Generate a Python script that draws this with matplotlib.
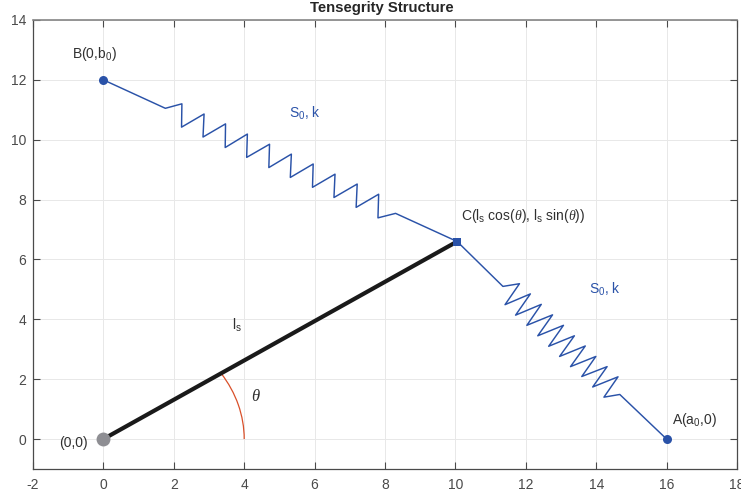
import matplotlib
matplotlib.use('Agg')
import matplotlib.pyplot as plt
from matplotlib.patches import Arc

plt.rcParams['font.family'] = ['Liberation Sans', 'DejaVu Sans']
plt.rcParams['mathtext.fontset'] = 'custom'
plt.rcParams['mathtext.rm'] = 'Liberation Sans'
plt.rcParams['mathtext.it'] = 'Liberation Serif:italic'
plt.rcParams['mathtext.default'] = 'regular'
plt.rcParams['axes.unicode_minus'] = False

BLUE = '#2a52a8'
DARK = '#4a4a4a'
TEXT = '#303030'

x_ticks = list(range(-2, 20, 2))
y_ticks = list(range(0, 16, 2))

origin = (0, 0)
point_a = (16, 0)
point_b = (0, 12)
point_c = (10.05, 6.6)
arc_radius = 4
arc_angle = 33.3

spring_bc_x = [0, 1.76, 2.23, 2.22, 2.86, 2.83, 3.47, 3.46, 4.09, 4.07, 4.72, 4.70, 5.34, 5.31,
               5.96, 5.94, 6.58, 6.55, 7.21, 7.18, 7.82, 7.80, 8.30, 10.05]
spring_bc_y = [12, 11.05, 11.2, 10.42, 10.86, 10.09, 10.53, 9.74, 10.19, 9.41, 9.85, 9.07, 9.52, 8.74,
               9.19, 8.41, 8.85, 8.07, 8.52, 7.74, 8.18, 7.39, 7.54, 6.6]

spring_ca_x = [10.05, 11.35, 11.82, 11.41, 12.13, 11.71, 12.44, 12.03, 12.76, 12.34, 13.07, 12.65,
               13.38, 12.96, 13.69, 13.27, 13.99, 13.59, 14.31, 13.90, 14.62, 14.22, 14.67, 16]
spring_ca_y = [6.6, 5.10, 5.19, 4.49, 4.85, 4.14, 4.50, 3.80, 4.15, 3.45, 3.80, 3.10,
               3.45, 2.76, 3.11, 2.42, 2.76, 2.09, 2.42, 1.74, 2.08, 1.40, 1.49, 0]

fig = plt.figure(figsize=(7.41, 4.97), dpi=100)
ax = fig.add_axes([33 / 741, 1 - 469 / 497, 704 / 741, 449 / 497])

ax.plot(spring_bc_x, spring_bc_y, color=BLUE, lw=1.05)
ax.plot(spring_ca_x, spring_ca_y, color=BLUE, lw=1.05)
ax.plot([origin[0], point_c[0]], [origin[1], point_c[1]], color='#1a1a1a', lw=3, solid_capstyle='butt')
ax.add_patch(Arc(origin, 2 * arc_radius, 2 * arc_radius, theta1=0, theta2=arc_angle, color='#d9502a', lw=0.9))

ax.plot(*origin, 'o', color='#8e8e93', ms=10, mew=0)
ax.plot(*point_a, 'o', color=BLUE, ms=6.5, mew=0)
ax.plot(*point_b, 'o', color=BLUE, ms=6.5, mew=0)
ax.plot(*point_c, 's', color=BLUE, ms=5.5, mew=0)

ax.text(-0.88, 12.87, 'B(0,b$_0$)', fontsize=10, color=TEXT, va='center')
ax.text(16.14, 0.63, 'A(a$_0$,0)', fontsize=10, color=TEXT, va='center')
ax.text(10.15, 7.46, 'C(l$_s$ cos($\\mathit{\\theta}$), l$_s$ sin($\\mathit{\\theta}$))', fontsize=10, color=TEXT, va='center')
ax.text(-1.25, -0.14, '(0,0)', fontsize=10, color=TEXT, va='center')
ax.text(3.66, 3.8, 'l$_s$', fontsize=10, color=TEXT, va='center')
ax.text(4.2, 1.45, '$\\mathit{\\theta}$', fontsize=12, color=TEXT, va='center')
ax.text(5.26, 10.88, 'S$_0$, k', fontsize=10, color=BLUE, va='center')
ax.text(13.8, 5.02, 'S$_0$, k', fontsize=10, color=BLUE, va='center')

ax.set_xlim(-2, 18)
ax.set_ylim(-1, 14)
ax.set_xticks(x_ticks)
ax.set_yticks(y_ticks)
ax.grid(True, color='#e8e8e8', lw=0.7)
ax.set_axisbelow(True)
ax.tick_params(direction='in', length=5, width=0.8, color=DARK, labelcolor=DARK, labelsize=10,
               top=True, right=True)
ax.tick_params(axis='x', pad=6.5)
ax.tick_params(axis='y', pad=5)
for side in ax.spines:
    ax.spines[side].set_color(DARK)
    ax.spines[side].set_linewidth(0.9)
ax.spines['top'].set_color('#858585')
ax.spines['top'].set_linewidth(1.2)

fig.text(382 / 741, 1 - 8 / 497, 'Tensegrity Structure', fontsize=10.7, fontweight='bold',
         color='#262626', ha='center', va='center')

fig.savefig('out.png', dpi=100)
